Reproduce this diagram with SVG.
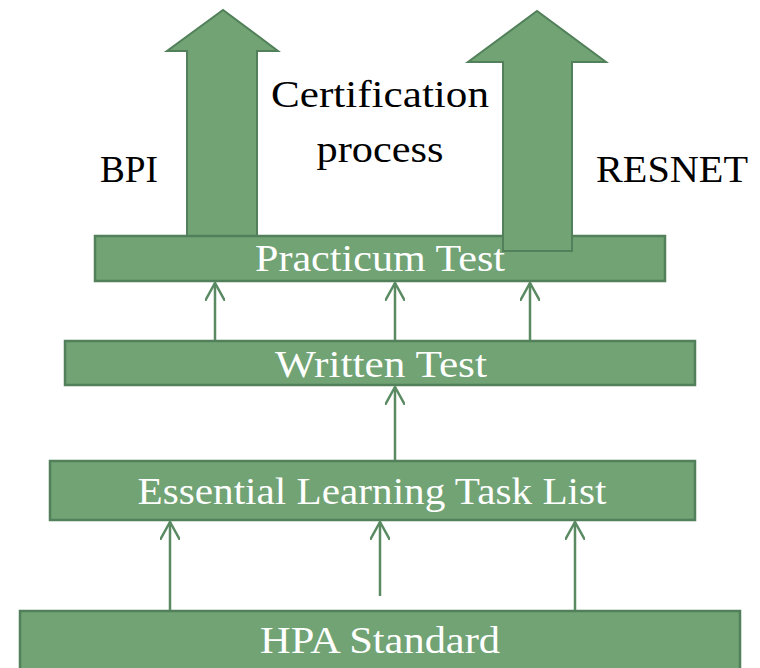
<svg xmlns="http://www.w3.org/2000/svg" width="760" height="668" viewBox="0 0 760 668">
<style>
.box{fill:#71a375;stroke:#52805a;stroke-width:2.5}
.big{fill:#71a375;stroke:#52805a;stroke-width:2}
.wt{font-family:"Liberation Serif","Times New Roman","DejaVu Serif",serif;font-size:37px;fill:#ffffff;text-anchor:middle}
.bt{font-family:"Liberation Serif","Times New Roman","DejaVu Serif",serif;font-size:38px;fill:#000000;text-anchor:middle}
.con{stroke:#5a8a62;stroke-width:2.5;fill:none}
</style>
<defs>
<marker id="open" viewBox="0 0 20 20" refX="18" refY="10" markerWidth="20" markerHeight="20" markerUnits="userSpaceOnUse" orient="auto">
<path d="M0,0 L18,10 L0,20" fill="none" stroke="#5a8a62" stroke-width="2.5"/>
</marker>
</defs>
<rect width="760" height="668" fill="#ffffff"/>
<g id="bpi-arrow">
<polygon class="big" points="187,236 187,51 167,51 223,10 278,51 257,51 257,236"/>
</g>
<g id="practicum">
<rect class="box" x="95" y="236" width="570" height="45"/>
<text class="wt" x="380" y="271" textLength="250" lengthAdjust="spacingAndGlyphs">Practicum Test</text>
</g>
<g id="resnet-arrow">
<polygon class="big" points="503,251 503,62 468,62 537,11 606,62 572,62 572,251"/>
</g>
<g id="written">
<rect class="box" x="65" y="341" width="630" height="44"/>
<text class="wt" x="381" y="377" textLength="212" lengthAdjust="spacingAndGlyphs">Written Test</text>
</g>
<g id="essential">
<rect class="box" x="50" y="461" width="645" height="59"/>
<text class="wt" x="372" y="504" textLength="469" lengthAdjust="spacingAndGlyphs">Essential Learning Task List</text>
</g>
<g id="hpa">
<rect class="box" x="20" y="611" width="720" height="70"/>
<text class="wt" x="380" y="653" textLength="240" lengthAdjust="spacingAndGlyphs">HPA Standard</text>
</g>
<g id="labels">
<text class="bt" x="129" y="182" textLength="58" lengthAdjust="spacingAndGlyphs">BPI</text>
<text class="bt" x="380" y="107" textLength="218" lengthAdjust="spacingAndGlyphs">Certification</text>
<text class="bt" x="380" y="162" textLength="127" lengthAdjust="spacingAndGlyphs">process</text>
<text class="bt" x="672" y="182" textLength="152" lengthAdjust="spacingAndGlyphs">RESNET</text>
</g>
<g id="connectors">
<line class="con" x1="215" y1="340" x2="215" y2="283" marker-end="url(#open)"/>
<line class="con" x1="395" y1="340" x2="395" y2="283" marker-end="url(#open)"/>
<line class="con" x1="530" y1="340" x2="530" y2="283" marker-end="url(#open)"/>
<line class="con" x1="395" y1="460" x2="395" y2="387" marker-end="url(#open)"/>
<line class="con" x1="170" y1="610" x2="170" y2="522" marker-end="url(#open)"/>
<line class="con" x1="380" y1="596" x2="380" y2="522" marker-end="url(#open)"/>
<line class="con" x1="575" y1="610" x2="575" y2="522" marker-end="url(#open)"/>
</g>
</svg>
